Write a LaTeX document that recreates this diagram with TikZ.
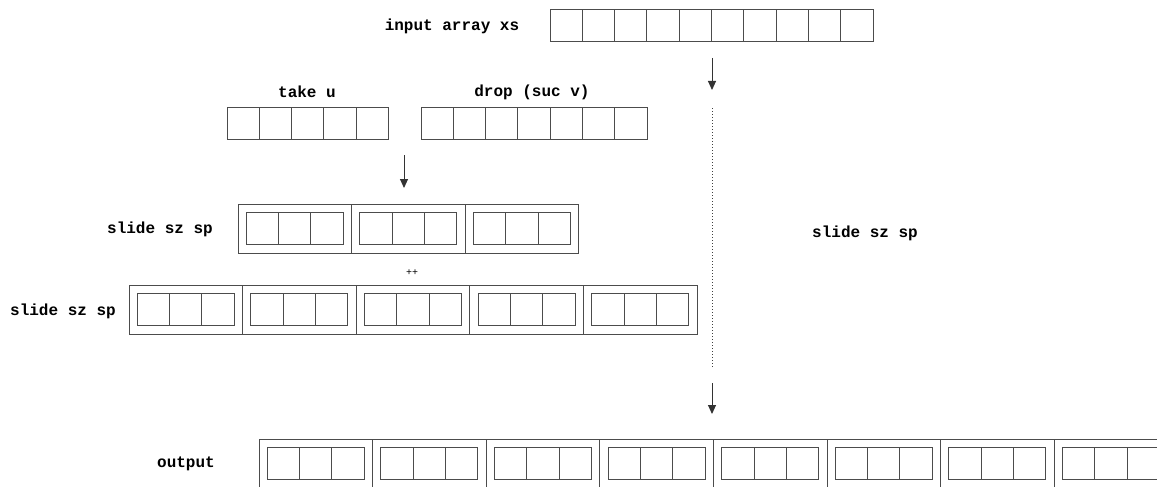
\documentclass[tikz,border=0pt]{standalone}
\usepackage{fontspec}
\setmonofont{Liberation Mono}
\usetikzlibrary{arrows.meta}
\definecolor{ln}{gray}{0.3}
\tikzset{
  lbl/.style={font=\ttfamily\bfseries\fontsize{16}{19}\selectfont, inner sep=0pt},
  small/.style={font=\ttfamily\fontsize{10}{12}\selectfont, inner sep=0pt},
  box/.style={draw=ln, line width=1pt, inner sep=0pt, outer sep=0pt, anchor=north west},
  cellline/.style={draw=ln, line width=1pt},
  flow/.style={draw=black!80, line width=1pt, -{Triangle[length=9pt,width=8pt]}},
  sep/.style={draw=black!75, line width=1pt, dotted}
}
\newcommand\mkarr[4]{% name, x, y, ncells
  \pgfmathsetmacro\arrw{#4*32.3}%
  \node[box, minimum width=\arrw pt, minimum height=32pt] (#1) at (#2,#3) {};
  \pgfmathtruncatemacro\lastc{#4-1}%
  \foreach \i in {1,...,\lastc}{\draw[cellline] ([xshift=\i*32.3pt]#1.north west) -- ([xshift=\i*32.3pt]#1.south west);}
}
\newcommand\mkgrp[5]{% name, x, y, ngroups, height
  \pgfmathsetmacro\grpw{#4*113.6}%
  \node[box, minimum width=\grpw pt, minimum height=#5pt] (#1) at (#2,#3) {};
  \pgfmathtruncatemacro\lastg{#4-1}%
  \foreach \j in {1,...,\lastg}{\draw[cellline] ([xshift=\j*113.6pt]#1.north west) -- ([xshift=\j*113.6pt]#1.south west);}
  \foreach \j in {0,...,\lastg}{%
    \pgfmathsetmacro\gx{#2+8.3+\j*113.6}%
    \pgfmathsetmacro\gy{#3+8.7}%
    \mkarr{#1-\j}{\gx}{\gy}{3}%
  }
}
\begin{document}
\begin{tikzpicture}[x=1pt,y=-1pt]
\useasboundingbox (0,0) rectangle (1157,487);
\clip (0,0) rectangle (1157,487);

% labels
\node[lbl] (lin) at (452,26) {input array xs};
\node[lbl] (ltake) at (307,92) {take u};
\node[lbl] (ldrop) at (532,92) {drop (suc v)};
\node[lbl] (lsl1) at (160,229) {slide sz sp};
\node[small] (lpp) at (412,273) {++};
\node[lbl] (lsl2) at (63,311) {slide sz sp};
\node[lbl] (lsl3) at (865,233) {slide sz sp};
\node[lbl] (lout) at (186,464) {output};

% arrays
\mkarr{xs}{550}{10}{10}
\mkarr{take}{227}{107}{5}
\mkarr{drop}{421}{107}{7}

% slide groups
\mkgrp{s1}{238}{204}{3}{49}
\mkgrp{s2}{129}{285}{5}{49}
\mkgrp{out}{259}{439}{8}{50}

% connectors
\coordinate (a1s) at (712,58);
\coordinate (a1e) at (712,90);
\coordinate (a2s) at (404,155);
\coordinate (a2e) at (404,188);
\coordinate (d1) at (712.5,108);
\coordinate (d2) at (712.5,367);
\coordinate (a3s) at (712,383);
\coordinate (a3e) at (712,414);
\draw[flow] (a1s) -- (a1e);
\draw[flow] (a2s) -- (a2e);
\draw[sep] (d1) -- (d2);
\draw[flow] (a3s) -- (a3e);
\end{tikzpicture}
\end{document}
